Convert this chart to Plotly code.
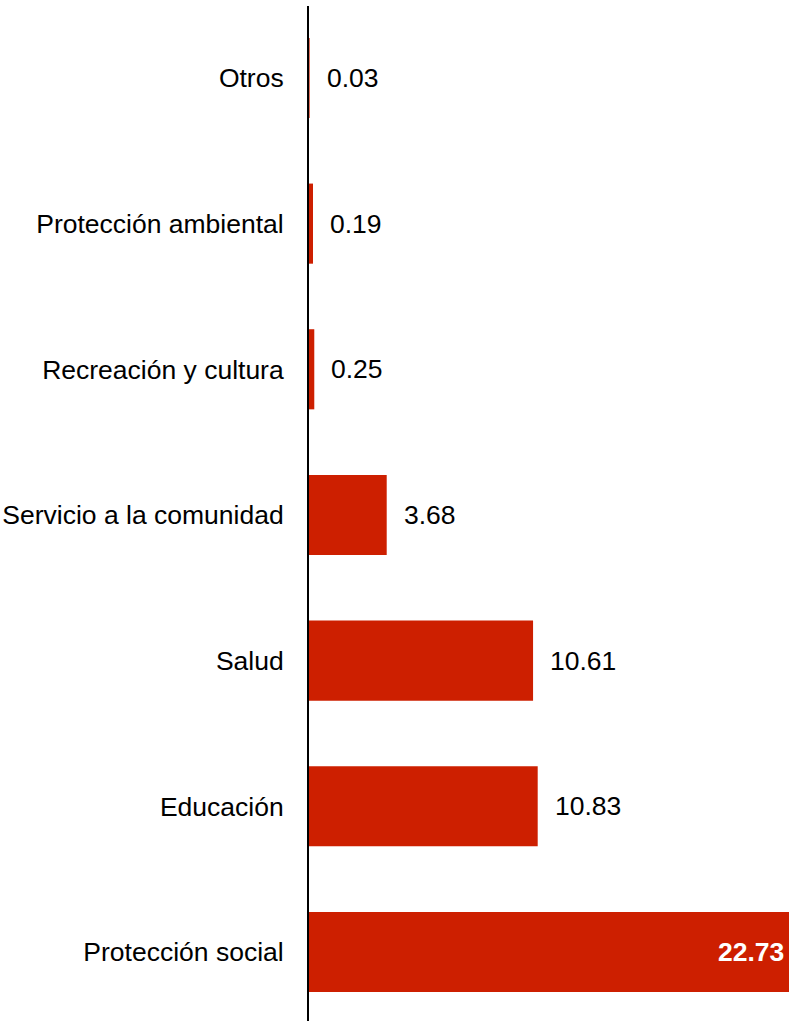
import plotly.graph_objects as go

categories = ["Protección social", "Educación", "Salud", "Servicio a la comunidad",
              "Recreación y cultura", "Protección ambiental", "Otros"]
values = [22.73, 10.83, 10.61, 3.68, 0.25, 0.19, 0.03]
labels = ["22.73", "10.83", "10.61", "3.68", "0.25", "0.19", "0.03"]

FONT = "Liberation Sans, Arial, sans-serif"
RED = "#CD1F00"
FS = 26.5

fig = go.Figure()
fig.add_trace(go.Bar(
    x=values, y=categories, orientation="h",
    marker=dict(color=RED, line=dict(width=0)),
    hoverinfo="skip",
))

annotations = []
for c, v, t in zip(categories, values, labels):
    if v == max(values):
        annotations.append(dict(x=v, y=c, text="<b>" + t + "</b>", showarrow=False,
                                xanchor="right", xshift=-3, yanchor="middle",
                                font=dict(family=FONT, size=FS, color="white")))
    else:
        annotations.append(dict(x=v, y=c, text=t, showarrow=False,
                                xanchor="left", xshift=15, yanchor="middle",
                                font=dict(family=FONT, size=FS, color="black")))

fig.update_layout(
    width=789, height=1021,
    margin=dict(l=309, r=0, t=6, b=0, pad=0),
    paper_bgcolor="white", plot_bgcolor="white",
    showlegend=False,
    bargap=0.45,
    font=dict(family=FONT, size=FS, color="black"),
    annotations=annotations,
    xaxis=dict(range=[0, 22.73], visible=False, fixedrange=True),
    yaxis=dict(range=[-0.474, 6.494], showline=True, linecolor="black", linewidth=2,
               showgrid=False, zeroline=False, ticks="", ticklabelstandoff=18,
               fixedrange=True,
               tickfont=dict(family=FONT, size=FS, color="black")),
)

fig.write_html(
    "out.html",
    config={"displayModeBar": False, "staticPlot": True},
    post_script="document.body.style.margin='0';document.documentElement.style.overflow='hidden';",
)
